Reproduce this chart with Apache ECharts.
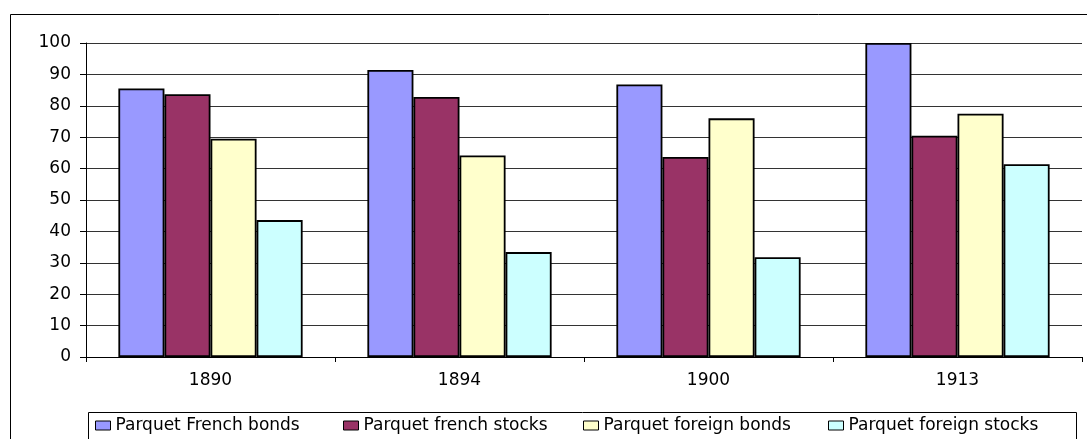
<!DOCTYPE html>
<html lang="en">
<head>
  <meta charset="UTF-8">
  <title>Parquet</title>
  <style>
    html, body { margin: 0; padding: 0; background: #fff; }
    #myEcharts { width: 1087px; height: 439px; }
  </style>
  <script src="https://cdn.jsdelivr.net/npm/echarts@6/dist/echarts.min.js"></script>
</head>
<body>
<div id="myEcharts"></div>
<script>
  // data
  var years = ['1890', '1894', '1900', '1913'];
  var seriesNames = ['Parquet French bonds', 'Parquet french stocks', 'Parquet foreign bonds', 'Parquet foreign stocks'];
  var frenchBonds = [85.5, 91.4, 86.8, 100];
  var frenchStocks = [83.7, 82.8, 63.7, 70.5];
  var foreignBonds = [69.5, 64.2, 76.0, 77.5];
  var foreignStocks = [43.6, 33.4, 31.8, 61.4];
  var yTicks = [0, 10, 20, 30, 40, 50, 60, 70, 80, 90, 100];

  var myChart = echarts.init(document.getElementById('myEcharts'));
  var font = 'DejaVu Sans, Liberation Sans, Arial, sans-serif';

  function bar(name, data, color) {
    return {
      name: name,
      type: 'bar',
      data: data,
      barWidth: '18.5%',
      barGap: '0%',
      itemStyle: { color: color, borderColor: '#000', borderWidth: 1.8 }
    };
  }

  // one legend per entry so each sits where the original puts it
  var legendLeft = [95, 343, 583, 828];
  var legends = seriesNames.map(function (n, i) {
    return {
      data: [n],
      left: legendLeft[i],
      top: 417,
      padding: 0,
      itemWidth: 15,
      itemHeight: 9,
      itemGap: 0,
      icon: 'rect',
      itemStyle: { borderColor: '#000', borderWidth: 1 },
      textStyle: { fontSize: 17, color: '#000', fontFamily: font }
    };
  });

  var option = {
    animation: false,
    textStyle: { fontFamily: font },
    graphic: [{
      type: 'rect',
      shape: { x: 10.5, y: 14.5, width: 1100, height: 450 },
      style: { fill: 'none', stroke: '#000', lineWidth: 1 },
      z: -1
    }, {
      type: 'rect',
      shape: { x: 88.5, y: 412.5, width: 988, height: 50 },
      style: { fill: 'none', stroke: '#000', lineWidth: 1 },
      z: -1
    }],
    grid: { left: 86, right: 5, top: 43, bottom: 82, containLabel: false },
    legend: legends,
    xAxis: {
      type: 'category',
      data: years,
      axisLine: { lineStyle: { color: '#000' } },
      axisTick: { show: true, length: 5, lineStyle: { color: '#000' } },
      axisLabel: { color: '#000', fontSize: 17, margin: 15 }
    },
    yAxis: {
      type: 'value',
      min: yTicks[0],
      max: yTicks[yTicks.length - 1],
      interval: 10,
      axisLine: { show: true, lineStyle: { color: '#000' } },
      axisTick: { show: true, length: 6, lineStyle: { color: '#000' } },
      axisLabel: { color: '#000', fontSize: 17, margin: 15 },
      splitLine: { lineStyle: { color: '#333', width: 1 } }
    },
    series: [
      bar(seriesNames[0], frenchBonds, '#9999ff'),
      bar(seriesNames[1], frenchStocks, '#993366'),
      bar(seriesNames[2], foreignBonds, '#ffffcc'),
      bar(seriesNames[3], foreignStocks, '#ccffff')
    ]
  };

  myChart.setOption(option);
</script>
</body>
</html>
